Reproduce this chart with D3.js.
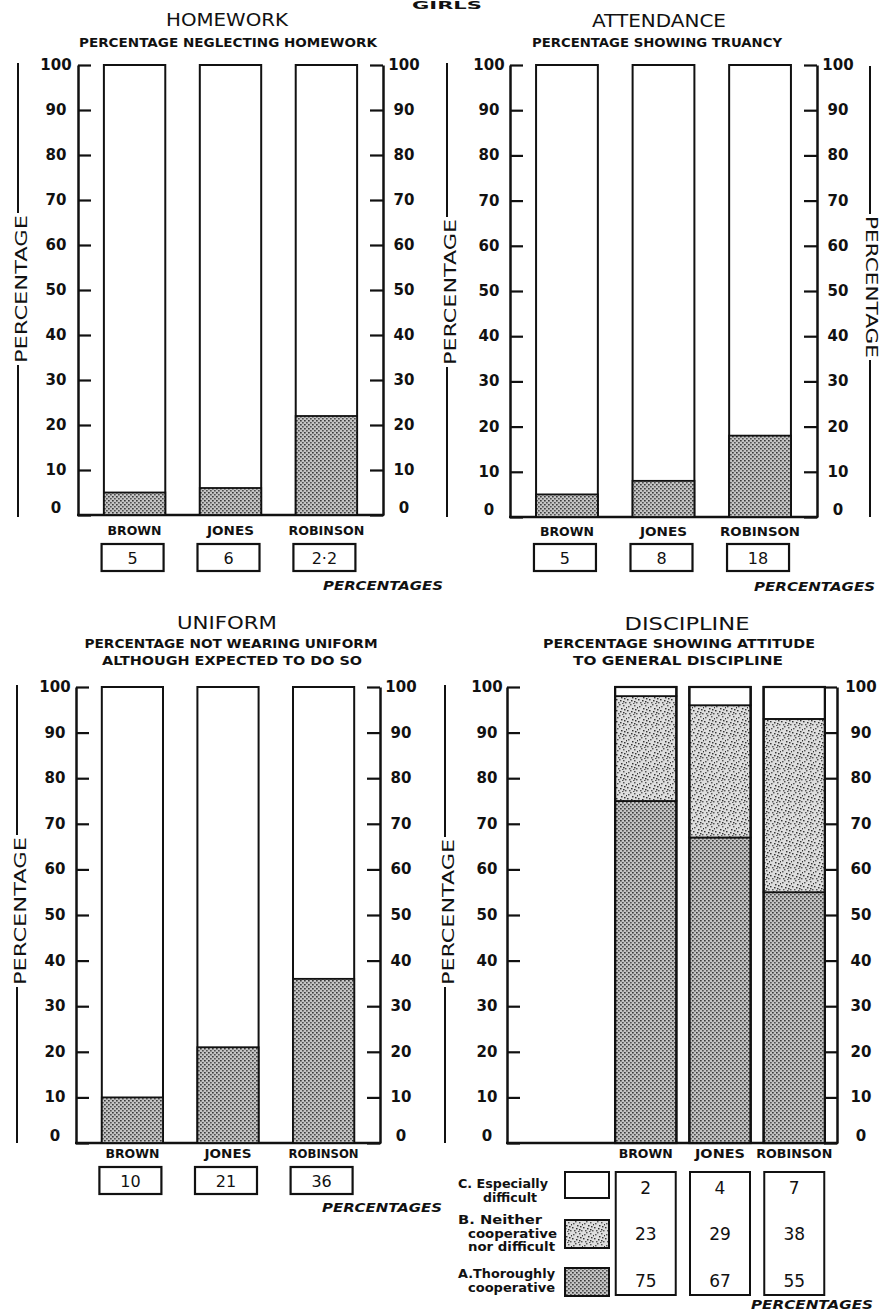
<!DOCTYPE html>
<html><head><meta charset="utf-8">
<script src="https://cdn.jsdelivr.net/npm/d3@7"></script>
<style>body{margin:0;background:#fff;} svg{display:block;}</style>
</head><body>
<script>
// ---------- DATA ----------
const schools = ["BROWN", "JONES", "ROBINSON"];
const homework = [5, 6, 22];
const homeworkLabels = ["5", "6", "2·2"];
const attendance = [5, 8, 18];
const attendanceLabels = ["5", "8", "18"];
const uniform = [10, 21, 36];
const uniformLabels = ["10", "21", "36"];
const disciplineA = [75, 67, 55];   // Thoroughly cooperative
const disciplineB = [23, 29, 38];   // Neither cooperative nor difficult
const disciplineC = [2, 4, 7];      // Especially difficult
const yTicks = [0, 10, 20, 30, 40, 50, 60, 70, 80, 90, 100];
const legendItems = [
  {key: "C", lines: ["C. Especially", "difficult"]},
  {key: "B", lines: ["B.   Neither", "cooperative", "nor difficult"]},
  {key: "A", lines: ["A.Thoroughly", "cooperative"]}
];

// ---------- SETUP ----------
const W = 893, H = 1312;
const FC = "'DejaVu Sans','Liberation Sans',sans-serif";
const FT = "'DejaVu Sans','Liberation Sans',sans-serif";
const svg = d3.select("body").append("svg").attr("width", W).attr("height", H);
svg.append("rect").attr("width", W).attr("height", H).attr("fill", "#fff");

const defs = svg.append("defs");
const pd = defs.append("pattern").attr("id", "dense").attr("width", 4).attr("height", 4).attr("patternUnits", "userSpaceOnUse");
pd.append("rect").attr("width", 4).attr("height", 4).attr("fill", "#c4c4c4");
pd.append("rect").attr("x", 0).attr("y", 0).attr("width", 1.7).attr("height", 1.5).attr("fill", "#3a3a3a");
pd.append("rect").attr("x", 2).attr("y", 2).attr("width", 1.7).attr("height", 1.5).attr("fill", "#505050");
const ps = defs.append("pattern").attr("id", "speckle").attr("width", 11).attr("height", 11).attr("patternUnits", "userSpaceOnUse");
ps.append("rect").attr("width", 11).attr("height", 11).attr("fill", "#dedede");
[[1,2],[4,7],[7,1],[8,5],[2,9],[5,4],[9,9],[0,6],[6,10],[10,3],[3,0],[7,8]].forEach(([a,b],i) => {
  ps.append("rect").attr("x", a).attr("y", b).attr("width", 1.5).attr("height", 1.4).attr("fill", i % 2 ? "#333" : "#555");
});

// ---------- TEXT HELPERS ----------
function text(x, y, s, o = {}) {
  const t = svg.append("text").attr("x", x).attr("y", y).text(s)
    .attr("text-anchor", o.anchor || "middle")
    .attr("font-family", o.family || FC)
    .attr("font-size", o.size || 12)
    .attr("font-weight", o.weight || "bold")
    .attr("fill", "#111");
  if (o.italic) t.attr("font-style", "italic");
  if (o.len) t.attr("textLength", o.len).attr("lengthAdjust", o.adjust || "spacingAndGlyphs");
  return t;
}

function vLabel(lx, y0, y1, cy, len, rot, tx) {
  svg.append("line").attr("x1", lx).attr("x2", lx).attr("y1", y0).attr("y2", cy - len / 2 - 2)
    .attr("stroke", "#111").attr("stroke-width", 2);
  svg.append("line").attr("x1", lx).attr("x2", lx).attr("y1", cy + len / 2 + 2).attr("y2", y1)
    .attr("stroke", "#111").attr("stroke-width", 2);
  svg.append("text").attr("transform", `translate(${tx},${cy}) rotate(${rot})`)
    .attr("text-anchor", "middle").attr("dominant-baseline", "central")
    .attr("font-family", FT).attr("font-size", 15).attr("fill", "#111")
    .attr("textLength", len).attr("lengthAdjust", "spacingAndGlyphs")
    .text("PERCENTAGE");
}

// ---------- PANEL ----------
function panel(cfg) {
  const g = svg.append("g");
  const y = d3.scaleLinear().domain([0, 100]).range([cfg.bottom, cfg.top]);
  const x = d3.scaleBand().domain(schools).range(cfg.xr || [cfg.left, cfg.right])
    .paddingInner(cfg.pi || 0.36).paddingOuter(cfg.po || 0.27);

  const la = g.append("g").attr("transform", `translate(${cfg.left},0)`)
    .call(d3.axisLeft(y).tickValues(yTicks).tickSize(-13).tickSizeOuter(0).tickPadding(0));
  const ra = g.append("g").attr("transform", `translate(${cfg.right},0)`)
    .call(d3.axisRight(y).tickValues(yTicks).tickSize(-13).tickSizeOuter(0).tickPadding(0));
  [la, ra].forEach((a, i) => {
    a.select(".domain").attr("stroke", "#111").attr("stroke-width", 2.5);
    a.selectAll(".tick line").attr("stroke", "#111").attr("stroke-width", 2.2);
    a.selectAll(".tick text").attr("x", i === 0 ? -cfg.lOff : cfg.rOff).attr("text-anchor", "middle")
      .attr("dy", "0.3em").attr("font-family", FC).attr("font-size", 15).attr("font-weight", "bold").attr("fill", "#111");
    a.selectAll(".tick").filter(d => d === 0).select("text").attr("dy", "-0.2em");
  });
  g.append("line").attr("x1", cfg.left - 1).attr("x2", cfg.right + 1)
    .attr("y1", y(0)).attr("y2", y(0)).attr("stroke", "#111").attr("stroke-width", 2.5);

  const bw = x.bandwidth();
  schools.forEach((s, i) => {
    g.append("rect").attr("x", x(s)).attr("y", y(100)).attr("width", bw).attr("height", y(0) - y(100))
      .attr("fill", "#fff").attr("stroke", "#111").attr("stroke-width", 2);
  });
  if (cfg.values) {
    schools.forEach((s, i) => {
      g.append("rect").attr("x", x(s)).attr("y", y(cfg.values[i])).attr("width", bw)
        .attr("height", y(0) - y(cfg.values[i]))
        .attr("fill", "url(#dense)").attr("stroke", "#111").attr("stroke-width", 1.8);
    });
  }
  if (cfg.stack) {
    const rows = schools.map((s, i) => ({school: s, A: disciplineA[i], B: disciplineB[i], C: disciplineC[i]}));
    const series = d3.stack().keys(["A", "B", "C"])(rows);
    const fills = {A: "url(#dense)", B: "url(#speckle)", C: "#fff"};
    series.forEach(ser => {
      ser.forEach(d => {
        g.append("rect").attr("x", x(d.data.school)).attr("y", y(d[1])).attr("width", bw)
          .attr("height", y(d[0]) - y(d[1])).attr("fill", fills[ser.key])
          .attr("stroke", "#111").attr("stroke-width", 1.8);
      });
    });
    schools.forEach(s => {
      g.append("rect").attr("x", x(s)).attr("y", y(100)).attr("width", bw).attr("height", y(0) - y(100))
        .attr("fill", "none").attr("stroke", "#111").attr("stroke-width", 2.2);
    });
  }

  schools.forEach((s, i) => {
    text(x(s) + bw / 2, cfg.bottom + cfg.catDy, s, {size: 12, len: cfg.catLen[i]});
  });

  if (cfg.labels) {
    schools.forEach((s, i) => {
      const cx = x(s) + bw / 2 - 2;
      g.append("rect").attr("x", cx - 31).attr("y", cfg.boxY).attr("width", 62).attr("height", 27)
        .attr("fill", "#fff").attr("stroke", "#111").attr("stroke-width", 2.2);
      text(cx, cfg.boxY + 20, cfg.labels[i], {size: 16, weight: "normal", family: FT});
    });
  }
  return {x, y};
}

// ---------- GIRLS heading (cropped at the top in the source) ----------
text(447, 9, "GIRLS", {size: 11, family: FT, len: 70});

// ---------- HOMEWORK ----------
text(227, 26, "HOMEWORK", {size: 18, weight: "normal", family: FT, len: 122});
text(228, 47, "PERCENTAGE  NEGLECTING  HOMEWORK", {size: 12, len: 298});
panel({left: 78, right: 383, top: 65, bottom: 515, lOff: 22, rOff: 21,
  values: homework, labels: homeworkLabels, catDy: 20, boxY: 544,
  catLen: [54, 47, 76]});
text(443, 590, "PERCENTAGES", {size: 13, italic: true, anchor: "end", len: 120});
vLabel(18, 63, 517, 289, 148, -90, 22);

// ---------- ATTENDANCE ----------
text(659, 27, "ATTENDANCE", {size: 18, weight: "normal", family: FT, len: 134});
text(657, 47, "PERCENTAGE  SHOWING  TRUANCY", {size: 11.5, len: 250});
panel({left: 510, right: 817, top: 65, bottom: 517, lOff: 21, rOff: 21,
  values: attendance, labels: attendanceLabels, catDy: 19, boxY: 544,
  catLen: [54, 47, 80]});
text(875, 591, "PERCENTAGES", {size: 13, italic: true, anchor: "end", len: 121});
vLabel(447, 63, 517, 292, 146, -90, 451);
vLabel(870, 66, 517, 287, 142, 90, 871);

// ---------- UNIFORM ----------
text(227, 629, "UNIFORM", {size: 18, weight: "normal", family: FT, len: 100});
text(231, 648, "PERCENTAGE NOT WEARING UNIFORM", {size: 12, len: 293});
text(232, 665, "ALTHOUGH  EXPECTED  TO DO SO", {size: 12, len: 260});
panel({left: 76, right: 380, top: 687, bottom: 1143, lOff: 21, rOff: 21,
  values: uniform, labels: uniformLabels, catDy: 15, boxY: 1167,
  catLen: [54, 47, 70]});
text(442, 1212, "PERCENTAGES", {size: 13, italic: true, anchor: "end", len: 120});
vLabel(17, 685, 1143, 911, 148, -90, 21);

// ---------- DISCIPLINE ----------
text(687, 630, "DISCIPLINE", {size: 18, weight: "normal", family: FT, len: 125});
text(679, 648, "PERCENTAGE SHOWING  ATTITUDE", {size: 12, len: 272});
text(678, 665, "TO  GENERAL  DISCIPLINE", {size: 12, len: 210});
const dis = panel({left: 507, right: 837, top: 687, bottom: 1143, lOff: 20, rOff: 24,
  xr: [604, 836], pi: 0.176, po: 0.15, stack: true, catDy: 15,
  catLen: [54, 50, 76]});
vLabel(445, 685, 1143, 912, 146, -90, 449);

// legend + value columns
const legTop = {C: 1172, B: 1220, A: 1268};
const legH = {C: 26, B: 28, A: 28};
const legFill = {C: "#fff", B: "url(#speckle)", A: "url(#dense)"};
const legLineY = {C: [1188, 1202], B: [1224, 1238, 1251], A: [1278, 1292]};
const legX = {C: [458, 483], B: [458, 468, 468], A: [458, 468]};
const legLen = {C: [90, 54], B: [84, 89, 87], A: [97, 87]};
legendItems.forEach(it => {
  svg.append("rect").attr("x", 565).attr("y", legTop[it.key]).attr("width", 44).attr("height", legH[it.key])
    .attr("fill", legFill[it.key]).attr("stroke", "#111").attr("stroke-width", 2);
  it.lines.forEach((ln, j) => {
    text(legX[it.key][j], legLineY[it.key][j], ln, {size: 12, anchor: "start", len: legLen[it.key][j]});
  });
});
const colVals = {C: disciplineC, B: disciplineB, A: disciplineA};
const valY = {C: 1194, B: 1240, A: 1287};
schools.forEach((s, i) => {
  const cx = dis.x(s) + dis.x.bandwidth() / 2;
  svg.append("rect").attr("x", cx - 30).attr("y", 1172).attr("width", 60).attr("height", 123)
    .attr("fill", "none").attr("stroke", "#111").attr("stroke-width", 2);
  ["C", "B", "A"].forEach(k => {
    text(cx, valY[k], String(colVals[k][i]), {size: 17, weight: "normal", family: FT});
  });
});
text(873, 1309, "PERCENTAGES", {size: 13, italic: true, anchor: "end", len: 122});
</script>
</body></html>
